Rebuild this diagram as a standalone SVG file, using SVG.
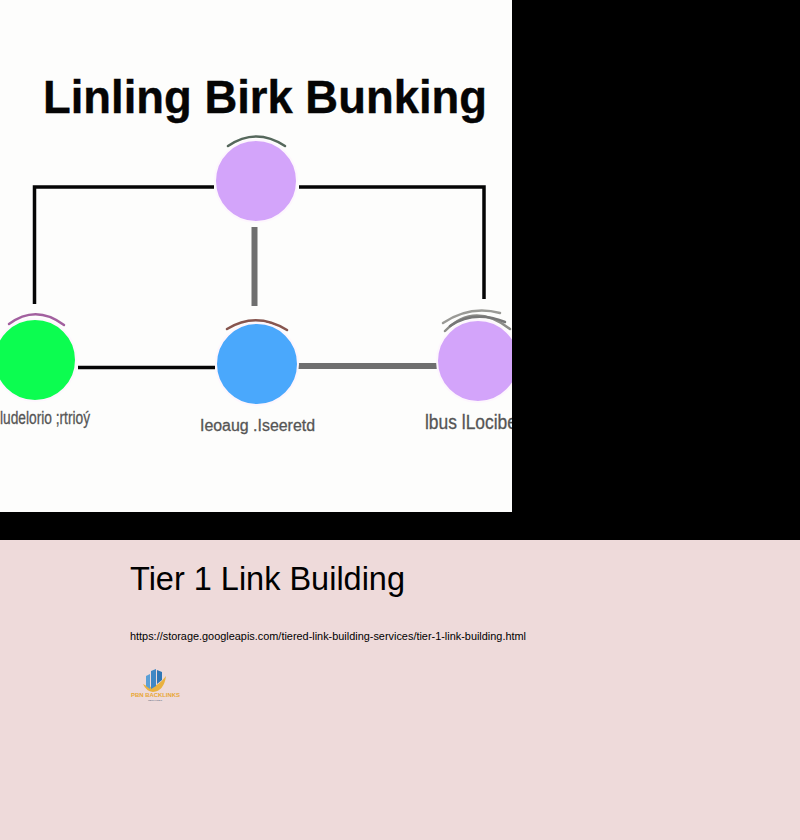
<svg xmlns="http://www.w3.org/2000/svg" width="800" height="840" viewBox="0 0 800 840">
  <style>
    .sans { font-family: "Liberation Sans", Arial, sans-serif; }
    .link-black { stroke: #050505; fill: none; stroke-linecap: butt; stroke-linejoin: miter; }
    .link-grey { stroke: #6f6f6f; fill: none; }
    .label { font-family: "Liberation Sans", Arial, sans-serif; fill: #555; stroke: #555; stroke-width: 0.3; }
    .halo { stroke: #fdf6fd; stroke-width: 2; }
    .arc { fill: none; stroke-width: 2.5; stroke-linecap: round; }
  </style>

  <!-- page panels -->
  <rect width="800" height="840" fill="#000"/>
  <rect x="0" y="0" width="512" height="512" fill="#fdfdfc"/>
  <rect x="0" y="540" width="800" height="300" fill="#eedada"/>

  <clipPath id="panel"><rect x="0" y="0" width="512" height="512"/></clipPath>

  <g id="chart" clip-path="url(#panel)">
    <text class="sans" x="43" y="113" font-size="47" font-weight="700" fill="#050505" stroke="#050505" stroke-width="0.4" textLength="444" lengthAdjust="spacingAndGlyphs">Linling Birk Bunking</text>

    <g id="connectors">
      <path class="link-black" stroke-width="3.500" d="M214 187H34.500V304"/>
      <path class="link-black" stroke-width="3.500" d="M299 187H484V299"/>
      <path class="link-grey" stroke-width="6" d="M254.500 227V306"/>
      <path class="link-black" stroke-width="3.500" d="M78 367.500H215"/>
      <path class="link-grey" stroke-width="6" d="M298 366H438"/>
    </g>

    <g id="node-top">
      <path class="arc" stroke="#56685c" d="M228 146Q256 127 285 146"/>
      <circle class="halo" cx="256" cy="181" r="41" fill="#d3a4fa"/>
    </g>

    <g id="node-left">
      <path class="arc" stroke="#a2609f" d="M9 324Q36 304 64 325"/>
      <circle class="halo" cx="35" cy="360" r="41" fill="#0cfd50"/>
      <text class="label" x="0" y="424" font-size="18" textLength="90" lengthAdjust="spacingAndGlyphs">ludelorio ;rtrioý</text>
    </g>

    <g id="node-center">
      <path class="arc" stroke="#87564f" d="M227 329Q256 311 287 330"/>
      <circle class="halo" cx="257" cy="364" r="41" fill="#4aa8fc"/>
      <text class="label" x="200" y="431" font-size="16" textLength="115" lengthAdjust="spacingAndGlyphs">Ieoaug .Iseeretd</text>
    </g>

    <g id="node-right">
      <path class="arc" stroke="#8c8c88" d="M445 331Q474 301 510 329"/>
      <path class="arc" stroke="#9a9a96" stroke-width="1.500" d="M443 323Q470 305 500 313"/>
      <path class="arc" stroke="#777" stroke-width="1.500" d="M450 326Q474 310 505 322"/>
      <circle class="halo" cx="478" cy="361" r="41" fill="#d3a4fa"/>
      <text class="label" x="425" y="429" font-size="20" textLength="92" lengthAdjust="spacingAndGlyphs">lbus lLocibe</text>
    </g>
  </g>

  <!-- page heading and address -->
  <text class="sans" x="130" y="590" font-size="33" fill="#000" textLength="275" lengthAdjust="spacingAndGlyphs">Tier 1 Link Building</text>
  <text class="sans" x="130" y="640" font-size="11" fill="#000" textLength="396" lengthAdjust="spacingAndGlyphs">https://storage.googleapis.com/tiered-link-building-services/tier-1-link-building.html</text>

  <g id="logo">
    <path d="M143 684Q154 692 166 676Q164 691 153 692Q146 691 143 684Z" fill="#e9b13f"/>
    <path d="M146 686V676L150 674V689Z" fill="#5a9fd6"/>
    <path d="M151 689V671L156 669V686Z" fill="#3f87c4"/>
    <path d="M157 684V670L162 672V680Z" fill="#2f76b5"/>
    <text class="sans" x="131" y="697" font-size="6" font-weight="700" fill="#e8a735" textLength="49" lengthAdjust="spacingAndGlyphs">PBN BACKLINKS</text>
    <text class="sans" x="148" y="701" font-size="2.500" fill="#5a6a80" textLength="14" lengthAdjust="spacingAndGlyphs">SERVICES</text>
  </g>
</svg>
